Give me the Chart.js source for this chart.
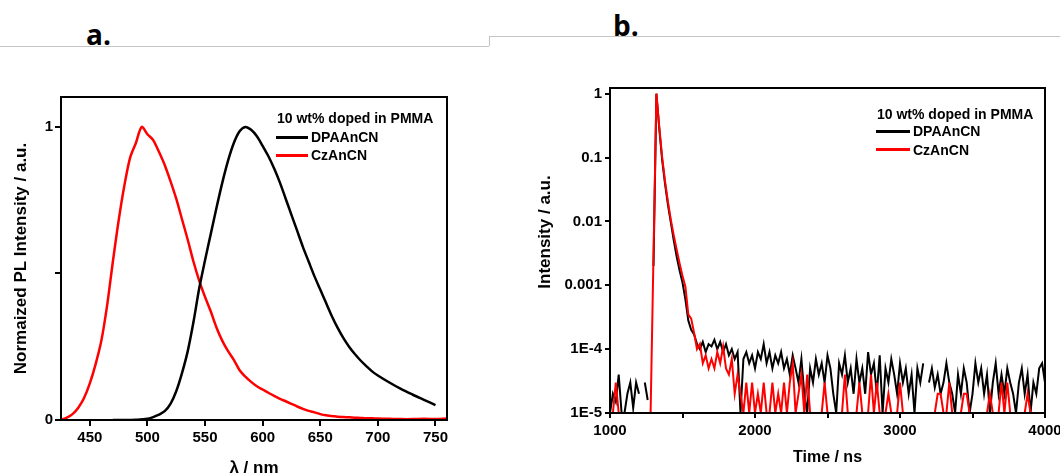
<!DOCTYPE html>
<html>
<head>
<meta charset="utf-8">
<script src="https://cdn.jsdelivr.net/npm/chart.js@4.4.1/dist/chart.umd.min.js"></script>
<style>
  body { margin: 0; background: #fff; width: 1060px; height: 475px; overflow: hidden; position: relative;
         font-family: "Liberation Sans", Arial, sans-serif; color: #000; }
  .tag { position: absolute; font-family: "Open Sans", sans-serif; font-weight: 700; font-size: 28px; line-height: 28px; }
  .rule { position: absolute; background: #c4c4c4; }
  .plot { position: absolute; }
  .lg-text { position: absolute; font-weight: 700; font-size: 14px; line-height: 16px; white-space: nowrap; }
  .lg-line { position: absolute; height: 3px; }
  .ytitle { position: absolute; width: 200px; text-align: center; font-weight: 700; font-size: 17px;
            line-height: 20px; white-space: nowrap; transform: rotate(-90deg); }
</style>
</head>
<body>
<div class="rule" style="left:0; top:46px; width:489px; height:1px;"></div>
<div class="rule" style="left:489px; top:36px; width:571px; height:1px;"></div>
<div class="rule" style="left:489px; top:36px; width:1px; height:10px;"></div>
<div class="tag" style="left:86px; top:20px;">a.</div>
<div class="tag" style="left:613px; top:11px;">b.</div>

<canvas id="plChart" class="plot" width="490" height="420" style="left:0; top:60px;"></canvas>
<canvas id="decayChart" class="plot" width="560" height="420" style="left:500px; top:60px;"></canvas>
<div id="decayYTitle" class="ytitle" style="left:445px; top:222px;"></div>

<script>
// ---- data ----
const legendTitle = '10 wt% doped in PMMA';
const seriesNames = ['DPAAnCN', 'CzAnCN'];
const seriesColors = ['#000000', '#ff0000'];

// (a) steady-state PL
const dpaWl = [470, 480, 490, 500, 505, 510, 515, 520, 525, 530, 535, 540, 545, 550, 555, 560, 565, 570, 575, 580,
  585, 590, 595, 600, 605, 610, 615, 620, 625, 630, 635, 640, 645, 650, 655, 660, 665, 670, 675, 680,
  685, 690, 695, 700, 710, 720, 730, 740, 750];
const dpaPl = [0, 0, 0.001, 0.004, 0.01, 0.018, 0.03, 0.055, 0.098, 0.16, 0.235, 0.335, 0.45, 0.545, 0.635, 0.725, 0.81, 0.885, 0.945, 0.985,
  1.0, 0.99, 0.968, 0.935, 0.9, 0.858, 0.81, 0.755, 0.7, 0.645, 0.59, 0.54, 0.49, 0.445, 0.4, 0.355, 0.315, 0.28, 0.25, 0.225,
  0.203, 0.184, 0.166, 0.152, 0.128, 0.106, 0.087, 0.069, 0.051];
const czWl = [425, 430, 435, 440, 445, 450, 455, 460, 465, 470, 475, 480, 485, 490, 495, 500, 505, 510, 515, 520,
  525, 530, 535, 540, 545, 550, 555, 560, 565, 570, 575, 580, 585, 590, 595, 600, 605, 610, 615, 620,
  625, 630, 635, 640, 645, 650, 655, 660, 665, 670, 675, 680, 685, 690, 695, 700, 710, 720, 730, 740, 750, 760];
const czPl = [0, 0.008, 0.02, 0.042, 0.075, 0.125, 0.19, 0.27, 0.39, 0.54, 0.68, 0.8, 0.895, 0.945, 1.0, 0.975, 0.955, 0.915, 0.87, 0.815,
  0.755, 0.685, 0.615, 0.54, 0.475, 0.42, 0.37, 0.315, 0.27, 0.235, 0.205, 0.17, 0.148, 0.13, 0.115, 0.104, 0.093, 0.082, 0.072, 0.064,
  0.055, 0.046, 0.038, 0.031, 0.026, 0.02, 0.016, 0.014, 0.011, 0.01, 0.009, 0.008, 0.007, 0.006, 0.006, 0.005, 0.004, 0.003, 0.003, 0.004, 0.003, 0.005];
const plTicksX = [450, 500, 550, 600, 650, 700, 750];
const plTicksY = [0, 0.5, 1];
const plTickLabelsY = ['0', '', '1'];

// (b) transient decay, one value every 20 ns from 1000 ns (null = no counts)
const decayStart = 1000;
const decayStep = 20;
const decayDpa = [
  1e-5, 2e-5, 1.5e-5, 4e-5, 1e-5, 1e-5, 2e-5, 3e-5, 1.2e-5, 3e-5,
  2e-5, null, 3e-5, 1.6e-5, null, 0.002, 1, 0.28, 0.09, 0.038,
  0.018, 0.0095, 0.005, 0.0028, 0.0017, 0.0011, 0.0006, 0.00028, 0.0002, 0.00017,
  0.00012, 0.0001, 0.00013, 0.00009, 0.00012, 0.00011, 0.00014, 0.0001, 0.00013, 0.00009,
  0.00012, 0.00008, 0.0001, 0.00007, 0.00009, 1e-5, 0.00007, 0.00009, 0.00006, 0.00008,
  0.00005, 0.00009, 0.00007, 0.00012, 0.00006, 0.00009, 0.00005, 0.00008, 0.00006, 0.00009,
  0.00005, 0.00007, 0.00004, 0.00008, 0.00005, 0.00003, 0.00007, 0.00002, 1e-5, 0.00005,
  0.00003, 0.00007, 0.00004, 0.00006, 0.00003, 0.00008, 0.00005, 0.00002, 1e-5, 0.00006,
  0.00004, 0.00008, 0.00003, 0.00005, 0.00002, 0.00007, 0.00003, 0.00005, 0.00002, 0.00009,
  0.00004, 0.00006, 0.00002, 0.00008, 1e-5, 0.00005, 0.00003, 0.00007, 0.00004, 0.00002,
  0.00006, 0.00003, 0.00005, 0.00002, 0.00004, 1e-5, 0.00005, 0.00003, 0.00006, null,
  0.00003, 0.00005, 0.000025, 0.00004, 0.00002, 0.00003, 0.00006, 0.00003, 0.00002, 1e-5,
  0.00004, 0.00002, 0.00005, 0.00003, 1e-5, 0.00002, 0.00006, 0.00003, 0.00005, 0.00002,
  0.00004, 1e-5, 0.00003, 0.00006, 0.00002, 0.00004, 0.00002, 0.00005, 0.00003, 0.00002,
  1e-5, 0.00003, 0.00005, 0.00002, 0.00004, 1e-5, 0.00003, 0.00002, 0.00005, 0.00006,
  0.00003];
const decayCz = [
  1e-5, 1e-5, 3e-5, 1e-5, 1e-5, 1e-5, 1e-5, 1e-5, 1e-5, 1e-5,
  1e-5, 1e-5, 1e-5, 1e-5, 1e-5, 0.003, 1, 0.3, 0.1, 0.042,
  0.02, 0.0105, 0.006, 0.0036, 0.0022, 0.0014, 0.00095, 0.00035, 0.0003, 0.00018,
  0.0001, 0.00012, 0.00006, 0.00008, 0.00005, 0.00007, 0.00005, 0.00009, 0.00006, 0.00011,
  0.00005, 0.00004, 0.00007, 0.00002, 0.00004, 0.00002, 1e-5, 3e-5, 1e-5, 3e-5,
  1e-5, 2e-5, 1e-5, 3e-5, 1e-5, 1e-5, 3e-5, 1e-5, 2e-5, 1e-5,
  3e-5, 1e-5, 3e-5, 6e-5, 1e-5, 2e-5, 4e-5, 1e-5, 4e-5, 1e-5,
  1e-5, 1e-5, 1e-5, 1e-5, 3e-5, 1e-5, 1e-5, 1e-5, 1e-5, 1e-5,
  1e-5, 4e-5, 1e-5, 1e-5, 1e-5, 1e-5, 3e-5, 1e-5, 1e-5, 1e-5,
  4e-5, 1e-5, 3e-5, 1e-5, 1e-5, 1e-5, 2e-5, 1e-5, 1e-5, 1e-5,
  3e-5, 1e-5, 1e-5, 1e-5, 1e-5, 1e-5, 1e-5, 1e-5, 1e-5, 1e-5,
  1e-5, 1e-5, 1e-5, 2e-5, 2e-5, 1e-5, 1e-5, 3e-5, 1e-5, 1e-5,
  1e-5, 1e-5, 2e-5, 2e-5, 1e-5, 1e-5, 1e-5, 1e-5, 1e-5, 1e-5,
  1e-5, 2e-5, 1e-5, 1e-5, 1e-5, 3e-5, 1e-5, 3e-5, 1e-5, 1e-5,
  1e-5, 1e-5, 1e-5, 1e-5, 2e-5, 1e-5, 1e-5, 1e-5, 1e-5, 1e-5,
  1e-5];
const decayTicksX = [1000, 1500, 2000, 2500, 3000, 3500, 4000];
const decayTickLabelsX = ['1000', '', '2000', '', '3000', '', '4000'];
const decayTicksY = [1e-5, 1e-4, 1e-3, 1e-2, 1e-1, 1];
const decayTickLabelsY = ['1E-5', '1E-4', '0.001', '0.01', '0.1', '1'];

// ---- drawing ----
Chart.defaults.font.family = '"Liberation Sans", Arial, sans-serif';
Chart.defaults.color = '#000';

const framePlugin = {
  id: 'frame',
  afterDatasetsDraw(chart) {
    const { ctx, chartArea: a } = chart;
    ctx.save();
    ctx.strokeStyle = '#000';
    ctx.lineWidth = 2;
    ctx.strokeRect(a.left, a.top, a.right - a.left, a.bottom - a.top);
    ctx.restore();
  }
};

const tickFont = { size: 15, weight: 'bold' };
const titleFont = { size: 17, weight: 'bold' };

function tickGrid(len) {
  return { display: true, drawOnChartArea: false, drawTicks: true, tickLength: len, color: '#000', lineWidth: 2 };
}

function toPoints(xs, ys) {
  return xs.map((x, i) => ({ x: x, y: ys[i] }));
}

new Chart(document.getElementById('plChart'), {
  type: 'line',
  data: {
    datasets: [
      { label: seriesNames[0], data: toPoints(dpaWl, dpaPl), borderColor: seriesColors[0],
        borderWidth: 2.5, pointRadius: 0, tension: 0.3, fill: false },
      { label: seriesNames[1], data: toPoints(czWl, czPl), borderColor: seriesColors[1],
        borderWidth: 2.5, pointRadius: 0, tension: 0.3, fill: false }
    ]
  },
  options: {
    responsive: false, animation: false, devicePixelRatio: 1,
    layout: { padding: { top: 37, right: 43, bottom: 0, left: 0 } },
    plugins: { legend: { display: false }, tooltip: { enabled: false } },
    scales: {
      x: {
        type: 'linear', min: 425, max: 760,
        afterBuildTicks: s => { s.ticks = plTicksX.map(v => ({ value: v })); },
        afterFit: s => { s.height = 60; s.paddingLeft = 0; s.paddingRight = 0; },
        ticks: { font: tickFont, padding: 3, maxRotation: 0, callback: v => String(v) },
        grid: tickGrid(6), border: { display: false },
        title: { display: true, text: 'λ / nm', font: titleFont, padding: { top: 0, bottom: 1 } }
      },
      y: {
        type: 'linear', min: 0, max: 1.102,
        afterBuildTicks: s => { s.ticks = plTicksY.map(v => ({ value: v })); },
        afterFit: s => { s.width = 61; s.paddingTop = 0; s.paddingBottom = 0; },
        ticks: { font: tickFont, padding: 2, callback: (v, i) => plTickLabelsY[i] },
        grid: tickGrid(6), border: { display: false },
        title: { display: true, text: 'Normaized PL Intensity / a.u.', font: titleFont, padding: { top: 11, bottom: 0 } }
      }
    }
  },
  plugins: [framePlugin]
});

new Chart(document.getElementById('decayChart'), {
  type: 'line',
  data: {
    datasets: [
      { label: seriesNames[0], data: decayDpa.map((y, i) => ({ x: decayStart + i * decayStep, y: y })),
        borderColor: seriesColors[0], borderWidth: 2, pointRadius: 0, tension: 0, order: 1 },
      { label: seriesNames[1], data: decayCz.map((y, i) => ({ x: decayStart + i * decayStep, y: y })),
        borderColor: seriesColors[1], borderWidth: 2, pointRadius: 0, tension: 0, order: 0 }
    ]
  },
  options: {
    responsive: false, animation: false, devicePixelRatio: 1,
    layout: { padding: { top: 28, right: 15, bottom: 0, left: 0 } },
    plugins: { legend: { display: false }, tooltip: { enabled: false } },
    scales: {
      x: {
        type: 'linear', min: 1000, max: 4000,
        afterBuildTicks: s => { s.ticks = decayTicksX.map(v => ({ value: v })); },
        afterFit: s => { s.height = 67; s.paddingLeft = 0; s.paddingRight = 0; },
        ticks: { font: tickFont, padding: 4, maxRotation: 0, callback: (v, i) => decayTickLabelsX[i] },
        grid: tickGrid(5), border: { display: false },
        title: { display: true, text: 'Time / ns', font: { size: 16, weight: 'bold' }, padding: { top: 0, bottom: 13 } }
      },
      y: {
        type: 'logarithmic', min: 1e-5, max: 1.228,
        afterBuildTicks: s => { s.ticks = decayTicksY.map(v => ({ value: v })); },
        afterFit: s => { s.width = 110; s.paddingTop = 0; s.paddingBottom = 0; },
        ticks: { font: tickFont, padding: 3, callback: (v, i) => decayTickLabelsY[i] },
        grid: tickGrid(5), border: { display: false }
      }
    }
  },
  plugins: [framePlugin]
});

document.getElementById('decayYTitle').textContent = 'Intensity / a.u.';

// legends inside the plot frames
function addLegend(titleLeft, titleMid, rows, lineLeft, lineRight, labelLeft) {
  const t = document.createElement('div');
  t.className = 'lg-text';
  t.style.left = titleLeft + 'px';
  t.style.top = (titleMid - 8) + 'px';
  t.textContent = legendTitle;
  document.body.appendChild(t);
  rows.forEach((mid, i) => {
    const ln = document.createElement('div');
    ln.className = 'lg-line';
    ln.style.left = lineLeft + 'px';
    ln.style.width = (lineRight - lineLeft) + 'px';
    ln.style.top = (mid - 1.5) + 'px';
    ln.style.background = seriesColors[i];
    document.body.appendChild(ln);
    const lb = document.createElement('div');
    lb.className = 'lg-text';
    lb.style.left = labelLeft + 'px';
    lb.style.top = (mid - 8) + 'px';
    lb.textContent = seriesNames[i];
    document.body.appendChild(lb);
  });
}
addLegend(277, 117.5, [137, 155], 276, 308, 311);
addLegend(877, 113.5, [131, 149.5], 876, 910, 913);
</script>
</body>
</html>
